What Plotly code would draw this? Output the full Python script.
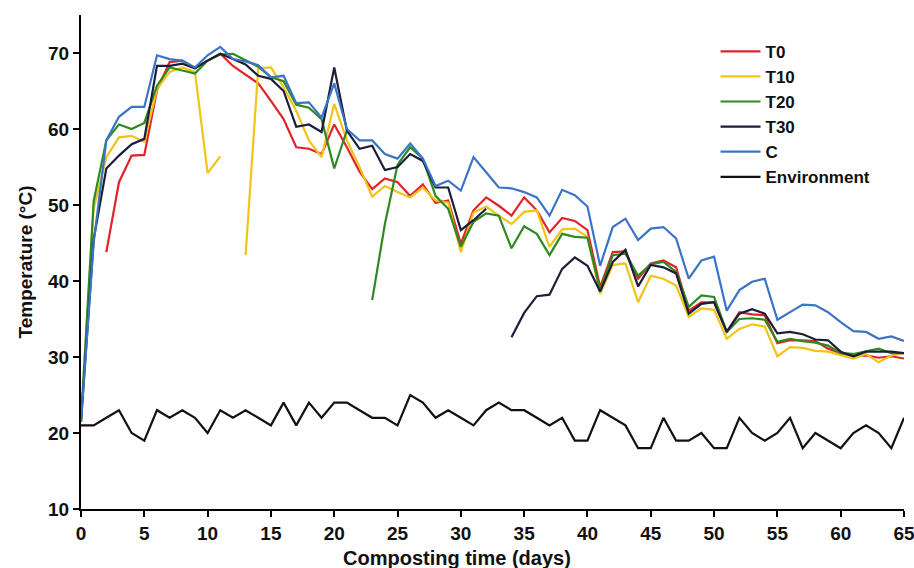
import plotly.graph_objects as go

days = list(range(0, 66))

T0 = [None, None, 43.8, 53.0, 56.5, 56.6, 65.1, 68.8, 69.0, 68.0, 69.0, 69.9, 68.3, 67.2, 66.0, 63.7,
      61.3, 57.6, 57.4, 56.7, 60.6, 57.6, 54.4, 52.1, 53.5, 53.0, 51.2, 52.7, 50.3, 50.6, 44.9, 49.3,
      51.0, 49.9, 48.6, 51.0, 49.3, 46.4, 48.3, 47.9, 46.7, 39.2, 43.8, 43.9, 40.3, 42.3, 42.7, 41.8,
      36.1, 37.2, 37.2, 33.3, 35.9, 35.6, 35.5, 31.8, 32.2, 32.2, 32.1, 31.1, 30.5, 30.1, 30.2, 29.9,
      30.1, 29.8]

T10 = [21.5, 49.5, 56.3, 58.9, 59.1, 58.3, 65.3, 67.5, 68.1, 67.5, 54.2, 56.4, None, 43.4, 68.0, 68.1,
       65.5, 62.4, 58.5, 56.3, 63.3, 58.5, 55.0, 51.1, 52.5, 51.7, 51.0, 52.3, 50.6, 50.3, 43.8, 49.0,
       49.8, 48.6, 47.5, 49.1, 49.3, 44.5, 46.8, 46.9, 45.8, 38.3, 42.1, 42.3, 37.2, 40.7, 40.3, 39.4,
       35.3, 36.4, 36.2, 32.4, 33.7, 34.3, 34.0, 30.1, 31.3, 31.2, 30.8, 30.7, 30.2, 29.8, 30.4, 29.3,
       30.2, 30.5]

T20 = [21.5, 50.5, 58.5, 60.6, 60.0, 60.8, 65.7, 68.1, 67.7, 67.3, 69.0, 69.8, 69.9, 69.1, 68.2, 66.8,
       66.3, 63.2, 62.8, 61.3, 54.8, 59.8, None, 37.5, 47.5, 55.3, 57.6, 56.1, 51.2, 49.5, 44.5, 47.8,
       48.9, 48.6, 44.3, 47.2, 46.2, 43.4, 46.2, 45.8, 45.7, 38.8, 43.4, 43.6, 40.7, 42.2, 42.5, 41.2,
       36.6, 38.1, 37.9, 33.3, 35.0, 35.1, 34.9, 32.0, 32.4, 32.1, 31.9, 31.5, 30.5, 30.4, 30.8, 31.1,
       30.5, 30.5]

T30 = [21.5, 45.5, 54.8, 56.5, 58.0, 58.7, 68.3, 68.3, 68.6, 68.0, 69.0, 69.9, 69.2, 68.5, 67.0, 66.6,
       65.0, 60.3, 60.6, 59.6, 68.1, 59.8, 57.4, 57.8, 54.6, 55.0, 56.7, 55.8, 52.3, 52.3, 46.7, 48.0,
       49.5, None, 32.6, 35.8, 38.0, 38.2, 41.6, 43.1, 42.0, 38.6, 42.5, 44.1, 39.3, 42.1, 41.8, 41.0,
       35.7, 37.0, 37.2, 33.3, 35.7, 36.3, 35.7, 33.1, 33.3, 33.0, 32.3, 32.2, 30.7, 30.1, 30.7, 30.7,
       30.7, 30.5]

C = [21.5, 45.0, 58.5, 61.6, 62.9, 62.9, 69.7, 69.2, 69.0, 68.1, 69.7, 70.8, 69.2, 68.9, 68.4, 66.8,
     67.0, 63.4, 63.5, 61.5, 66.0, 60.0, 58.5, 58.5, 56.7, 56.1, 58.1, 56.1, 52.5, 53.2, 51.9, 56.3,
     54.3, 52.3, 52.2, 51.7, 51.0, 48.6, 52.0, 51.3, 49.8, 42.0, 47.1, 48.2, 45.4, 46.9, 47.1, 45.6,
     40.3, 42.7, 43.2, 36.1, 38.8, 39.9, 40.3, 34.9, 35.9, 36.9, 36.8, 35.9, 34.6, 33.4, 33.3, 32.4,
     32.7, 32.1]

Environment = [21, 21, 22, 23, 20, 19, 23, 22, 23, 22, 20, 23, 22, 23, 22, 21, 24, 21, 24, 22, 24, 24,
               23, 22, 22, 21, 25, 24, 22, 23, 22, 21, 23, 24, 23, 23, 22, 21, 22, 19, 19, 23, 22, 21,
               18, 18, 22, 19, 19, 20, 18, 18, 22, 20, 19, 20, 22, 18, 20, 19, 18, 20, 21, 20, 18, 22]

series = [
    ("T0", T0, "#E2232A"),
    ("T10", T10, "#F2C318"),
    ("T20", T20, "#2D8A1F"),
    ("T30", T30, "#1A1E3A"),
    ("C", C, "#3A74C6"),
    ("Environment", Environment, "#111111"),
]

fig = go.Figure()
for name, vals, col in series:
    fig.add_trace(go.Scatter(x=days, y=vals, mode="lines", name=name,
                             line=dict(color=col, width=2.2), connectgaps=False))

font_fam = "Liberation Sans, Arial, sans-serif"

fig.update_layout(
    width=914, height=568,
    margin=dict(l=81, r=10, t=15, b=59, autoexpand=False),
    paper_bgcolor="white", plot_bgcolor="white",
    showlegend=True,
    legend=dict(x=0.771, y=0.962, xanchor="left", yanchor="top",
                font=dict(family=font_fam, size=17, color="#111", weight="bold"),
                bgcolor="rgba(0,0,0,0)", tracegroupgap=0, itemwidth=40),
    xaxis=dict(range=[0, 65], tickmode="linear", tick0=0, dtick=5,
               showline=True, linecolor="black", linewidth=2,
               ticks="outside", ticklen=6, tickwidth=2, tickcolor="black",
               showgrid=False, zeroline=False, ticklabeloverflow="allow",
               ticklabelstandoff=0, automargin=False,
               tickfont=dict(family=font_fam, size=19, color="#111", weight="bold")),
    yaxis=dict(range=[10, 75], tickmode="linear", tick0=10, dtick=10,
               showline=True, linecolor="black", linewidth=2,
               ticks="outside", ticklen=6, tickwidth=2, tickcolor="black",
               showgrid=False, zeroline=False, automargin=False,
               tickfont=dict(family=font_fam, size=19, color="#111", weight="bold"),
               title=dict(text="Temperature (°C)", standoff=10,
                          font=dict(family=font_fam, size=19, color="#111", weight="bold"))),
    annotations=[dict(text="Composting time (days)", xref="paper", yref="paper",
                      x=0.457, y=-0.1, xanchor="center", yanchor="middle", showarrow=False,
                      font=dict(family=font_fam, size=20, color="#111", weight="bold"))],
)

fig.write_html("out.html")
